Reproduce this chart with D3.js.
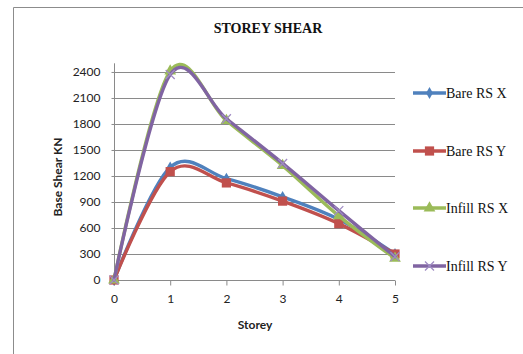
<!DOCTYPE html>
<html>
<head>
<meta charset="utf-8">
<script src="https://cdn.jsdelivr.net/npm/d3@7"></script>
<style>
  html, body { margin: 0; padding: 0; background: #fff; }
  svg { display: block; }
</style>
</head>
<body>
<svg id="chart" width="523" height="354"></svg>
<script>
// Storey numbers and storey shear (kN) for each analysis case
const storeys = [0, 1, 2, 3, 4, 5];
const bareRSX = [0, 1300, 1170, 960, 700, 300];
const bareRSY = [0, 1250, 1120, 910, 650, 300];
const infillRSX = [0, 2410, 1840, 1320, 740, 250];
const infillRSY = [0, 2370, 1860, 1345, 800, 270];
const seriesNames = ["Bare RS X", "Bare RS Y", "Infill RS X", "Infill RS Y"];
const yTicks = [0, 300, 600, 900, 1200, 1500, 1800, 2100, 2400];
const xTicks = [0, 1, 2, 3, 4, 5];

const colors = ["#4F81BD", "#C0504D", "#9BBB59", "#8064A2"];
const markers = ["diamond", "square", "triangle", "cross"];
const values = [bareRSX, bareRSY, infillRSX, infillRSY];

const svg = d3.select("#chart");

// outer chart frame
svg.append("path")
  .attr("d", "M13.5,354 V7.5 H523")
  .attr("fill", "none")
  .attr("stroke", "#8c8c8c")
  .attr("stroke-width", 1);

const x = d3.scaleLinear().domain([0, 5]).range([114, 395]);
const y = d3.scaleLinear().domain([0, 2500]).range([280, 63.3]);

// gridlines
svg.append("g").selectAll("line")
  .data(yTicks.filter(v => v > 0))
  .join("line")
  .attr("x1", x(0)).attr("x2", x(5))
  .attr("y1", d => Math.round(y(d)) + 0.5).attr("y2", d => Math.round(y(d)) + 0.5)
  .attr("stroke", "#8a8a8a").attr("stroke-width", 1);

// y axis
const yAxis = d3.axisLeft(y).tickValues(yTicks).tickFormat(d3.format("d")).tickSize(3).tickPadding(11);
const gy = svg.append("g").attr("transform", `translate(${x(0) + 0.5},0)`).call(yAxis);
gy.select(".domain").attr("d", `M0,${y(2500)}V${y(0)}`).attr("stroke", "#8a8a8a");
gy.selectAll(".tick line").attr("stroke", "#8a8a8a");
gy.selectAll(".tick text")
  .attr("font-family", "Lato, 'Liberation Sans', sans-serif")
  .attr("font-size", 12).attr("fill", "#222");

// x axis
const xAxis = d3.axisBottom(x).tickValues(xTicks).tickFormat(d3.format("d")).tickSize(5).tickPadding(9);
const gx = svg.append("g").attr("transform", `translate(0,${Math.round(y(0)) + 0.5})`).call(xAxis);
gx.select(".domain").attr("d", `M${x(0)},0H${x(5)}`).attr("stroke", "#8a8a8a");
gx.selectAll(".tick line").attr("stroke", "#8a8a8a");
gx.selectAll(".tick text")
  .attr("font-family", "Lato, 'Liberation Sans', sans-serif")
  .attr("font-size", 12).attr("fill", "#222");

// titles
svg.append("text")
  .attr("x", 268).attr("y", 33)
  .attr("text-anchor", "middle")
  .attr("font-family", "'Liberation Serif', 'Times New Roman', serif")
  .attr("font-weight", "bold").attr("font-size", 14)
  .attr("fill", "#111")
  .text("STOREY SHEAR");

svg.append("text")
  .attr("x", 255).attr("y", 329)
  .attr("text-anchor", "middle")
  .attr("font-family", "Lato, 'Liberation Sans', sans-serif")
  .attr("font-weight", "bold").attr("font-size", 12)
  .attr("fill", "#222")
  .text("Storey");

svg.append("text")
  .attr("transform", "translate(62,177) rotate(-90)")
  .attr("text-anchor", "middle")
  .attr("font-family", "Lato, 'Liberation Sans', sans-serif")
  .attr("font-weight", "bold").attr("font-size", 12)
  .attr("fill", "#222")
  .text("Base Shear KN");

// marker drawing
function drawMarker(g, kind, color, cx, cy) {
  if (kind === "diamond") {
    g.append("path").attr("d", d3.symbol(d3.symbolDiamond, 40)())
      .attr("transform", `translate(${cx},${cy})`).attr("fill", color);
  } else if (kind === "square") {
    g.append("path").attr("d", d3.symbol(d3.symbolSquare, 85)())
      .attr("transform", `translate(${cx},${cy})`).attr("fill", color);
  } else if (kind === "triangle") {
    g.append("path").attr("d", d3.symbol(d3.symbolTriangle, 60)())
      .attr("transform", `translate(${cx},${cy})`).attr("fill", color);
  } else {
    const s = 4.5;
    g.append("path")
      .attr("d", `M${cx - s},${cy - s}L${cx + s},${cy + s}M${cx - s},${cy + s}L${cx + s},${cy - s}`)
      .attr("stroke", "#a08cc4").attr("stroke-width", 1.3).attr("fill", "none");
  }
}

const line = d3.line()
  .x((d, i) => x(storeys[i]))
  .y(d => y(d))
  .curve(d3.curveCardinal.tension(0));

const plot = svg.append("g");
values.forEach((vals, si) => {
  const g = plot.append("g");
  g.append("path")
    .attr("d", line(vals))
    .attr("fill", "none")
    .attr("stroke", colors[si])
    .attr("stroke-width", 3.4)
    .attr("stroke-linejoin", "round")
    .attr("stroke-linecap", "round");
  vals.forEach((v, i) => drawMarker(g, markers[si], colors[si], x(storeys[i]), y(v)));
});

// legend
const legendY = [93, 151, 208, 266];
const lg = svg.append("g");
seriesNames.forEach((name, si) => {
  const ly = legendY[si];
  lg.append("line")
    .attr("x1", 413).attr("x2", 446).attr("y1", ly).attr("y2", ly)
    .attr("stroke", colors[si]).attr("stroke-width", 3.4);
  drawMarker(lg, markers[si], colors[si], 429.5, ly);
  lg.append("text")
    .attr("x", 446).attr("y", ly + 4.5)
    .attr("font-family", "'Liberation Serif', 'Times New Roman', serif")
    .attr("font-size", 14).attr("fill", "#111")
    .text(name);
});
</script>
</body>
</html>
